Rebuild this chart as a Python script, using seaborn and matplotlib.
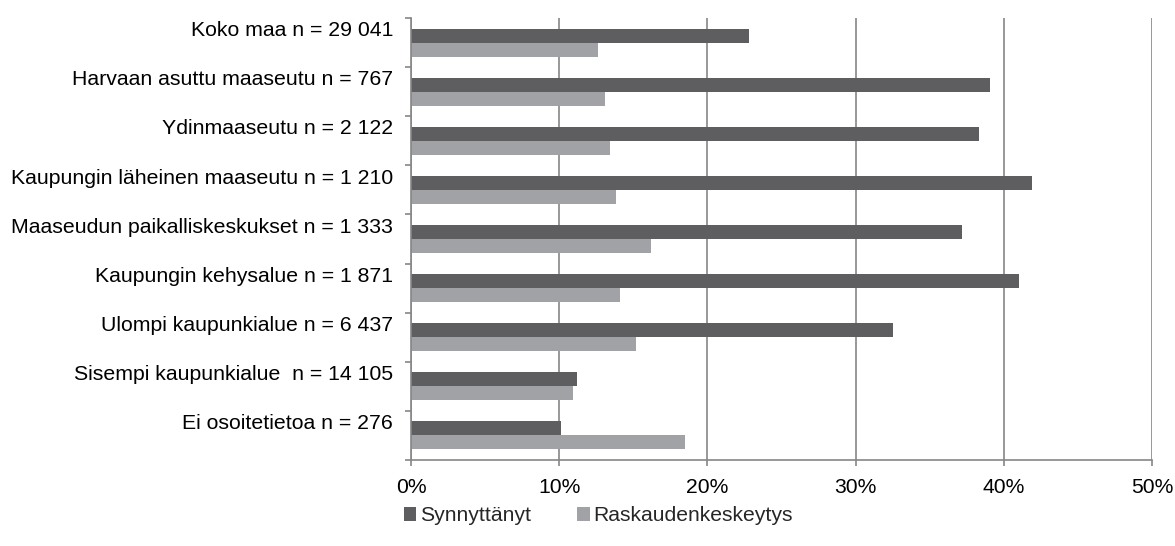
import matplotlib
matplotlib.use("Agg")
import matplotlib.pyplot as plt
import matplotlib.transforms as mtransforms
from matplotlib.ticker import FixedLocator, PercentFormatter
import seaborn as sns
import pandas as pd

categories = [
    "Koko maa n = 29 041",
    "Harvaan asuttu maaseutu n = 767",
    "Ydinmaaseutu n = 2 122",
    "Kaupungin läheinen maaseutu n = 1 210",
    "Maaseudun paikalliskeskukset n = 1 333",
    "Kaupungin kehysalue n = 1 871",
    "Ulompi kaupunkialue n = 6 437",
    "Sisempi kaupunkialue  n = 14 105",
    "Ei osoitetietoa n = 276",
]
synnyttanyt = [22.8, 39.1, 38.3, 41.9, 37.2, 41.0, 32.5, 11.2, 10.1]
raskaudenkeskeytys = [12.6, 13.1, 13.4, 13.8, 16.2, 14.1, 15.2, 10.9, 18.5]
series_names = ["Synnyttänyt", "Raskaudenkeskeytys"]
x_ticks = [0, 10, 20, 30, 40, 50]

df = pd.DataFrame({
    "category": categories * 2,
    "value": synnyttanyt + raskaudenkeskeytys,
    "series": [series_names[0]] * len(categories) + [series_names[1]] * len(categories),
})

sns.set_theme(style="white")
plt.rcParams["font.family"] = ["Liberation Sans", "DejaVu Sans"]

fig = plt.figure(figsize=(11.75, 5.46), dpi=100)
ax = fig.add_axes([0.3498, 0.1575, 0.6306, 0.8095])

sns.barplot(data=df, y="category", x="value", hue="series", orient="h",
            order=categories, hue_order=series_names,
            palette=["#5e5e60", "#a1a2a5"], width=0.57, linewidth=0,
            saturation=1, ax=ax, legend=True)

ax.set_xlim(0, 50)
ax.set_ylim(len(categories) - 0.5, -0.5)
ax.xaxis.set_major_locator(FixedLocator(x_ticks))
ax.xaxis.set_major_formatter(PercentFormatter(decimals=0))
ax.set_xlabel("")
ax.set_ylabel("")

ax.grid(axis="x", color="#868686", linewidth=1.2)
ax.grid(axis="y", visible=False)
ax.set_axisbelow(True)

for s in ["top", "right"]:
    ax.spines[s].set_visible(False)
for s in ["left", "bottom"]:
    ax.spines[s].set_visible(True)
    ax.spines[s].set_color("#868686")
    ax.spines[s].set_linewidth(1.2)

ax.tick_params(axis="x", which="major", bottom=True, length=4, width=1.2,
               color="#868686", labelsize=15.2, pad=9, labelcolor="black")
ax.tick_params(axis="y", which="major", left=False, length=0, pad=13,
               labelsize=15.3, labelcolor="black")
ax.yaxis.set_minor_locator(FixedLocator([i - 0.5 for i in range(len(categories) + 1)]))
ax.tick_params(axis="y", which="minor", left=True, length=4, width=1.2,
               color="#868686")

offset = mtransforms.ScaledTranslation(0, 10 / 72, fig.dpi_scale_trans)
for lbl in ax.get_yticklabels():
    lbl.set_transform(lbl.get_transform() + offset)

handles, labels = ax.get_legend_handles_labels()
ax.legend_.remove()
fig.legend(handles, labels, loc="center", bbox_to_anchor=(0.509, 0.055),
           ncol=2, frameon=False, fontsize=15.2, handlelength=0.6,
           handleheight=0.6, handletextpad=0.15, columnspacing=2.2)

fig.savefig("out.png", dpi=100, facecolor="white")
